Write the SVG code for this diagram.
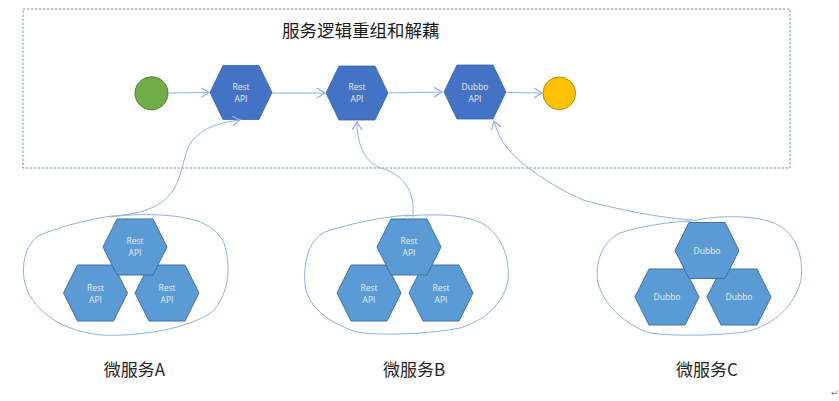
<svg xmlns="http://www.w3.org/2000/svg" width="839" height="401" viewBox="0 0 839 401">
<style>
.frame{fill:none;stroke:#6F94C6;stroke-width:1;stroke-dasharray:2.5 1.5}
.hexd{fill:#4472C4;stroke:#3A64B0;stroke-width:0.8}
.hexl{fill:#5B9BD5;stroke:#41719C;stroke-width:1}
.ht{font-family:"Open Sans","Liberation Sans",sans-serif;font-size:8.5px;fill:#E4ECF8;text-anchor:middle}
.con{fill:none;stroke:#8DB3E2;stroke-width:1.2}
.loop{fill:none;stroke:#8DB3E2;stroke-width:1}
.lbl{font-family:"Noto Sans CJK SC","Noto Sans",sans-serif;font-size:17px;fill:#262626;text-anchor:middle}
.title{font-family:"Noto Sans CJK SC","Noto Sans",sans-serif;font-size:17.5px;fill:#1a1a1a}
</style>
<defs>
<marker id="arr" markerUnits="userSpaceOnUse" markerWidth="12" markerHeight="12" refX="8" refY="5" orient="auto">
<path d="M0,0 L8,5 L0,10" fill="none" stroke="#8DB3E2" stroke-width="1.2"/>
</marker>
</defs>
<rect class="frame" x="23" y="9" width="767" height="159"/>
<text class="title" x="282" y="37">服务逻辑重组和解藕</text>

<g id="start"><circle cx="151.5" cy="93.3" r="16.5" fill="#70AD47" stroke="#507E32" stroke-width="1"/></g>
<g id="api1"><polygon class="hexd" points="210,92.5 223,65.5 259,65.5 272,92.5 259,119.5 223,119.5"/><text class="ht" x="241" y="90">Rest</text><text class="ht" x="241" y="102">API</text></g>
<g id="api2"><polygon class="hexd" points="326,93 339,66 375,66 388,93 375,120 339,120"/><text class="ht" x="357" y="90">Rest</text><text class="ht" x="357" y="102">API</text></g>
<g id="api3"><polygon class="hexd" points="444,92 457,65 493,65 506,92 493,119 457,119"/><text class="ht" x="475" y="89.5">Dubbo</text><text class="ht" x="475" y="101.5">API</text></g>
<g id="end"><circle cx="559.3" cy="93.3" r="16.3" fill="#FFC000" stroke="#BC8C00" stroke-width="1"/></g>

<g id="serviceA">
<path class="loop" d="M113,216 C95,218 60,226 38,236 C22,248 20,275 28,292 C38,312 60,330 100,335 C140,337 190,328 212,312 C228,296 232,268 224,243 C216,226 198,217 160,215 C140,214 125,215 110,217"/>
<polygon class="hexl" points="63.5,293 77.5,265 113.5,265 127.5,293 113.5,321 77.5,321"/><text class="ht" x="95.5" y="290.5">Rest</text><text class="ht" x="95.5" y="302.5">API</text>
<polygon class="hexl" points="135,293 149,265 185,265 199,293 185,321 149,321"/><text class="ht" x="167" y="290.5">Rest</text><text class="ht" x="167" y="302.5">API</text>
<polygon class="hexl" points="103,247 117,219 153,219 167,247 153,275 117,275"/><text class="ht" x="135" y="244">Rest</text><text class="ht" x="135" y="256">API</text>
<text class="lbl" x="134.5" y="376">微服务A</text>
</g>

<g id="serviceB">
<path class="loop" d="M410,215 C390,216 350,223 325,232 C308,240 303,265 305,285 C308,305 325,322 357,332 C380,336 430,334 460,328 C485,320 503,305 508,280 C510,255 500,235 485,225 C470,216 445,213 405,216"/>
<polygon class="hexl" points="337,293 351,265 387,265 401,293 387,321 351,321"/><text class="ht" x="369" y="290.5">Rest</text><text class="ht" x="369" y="302.5">API</text>
<polygon class="hexl" points="409,293 423,265 459,265 473,293 459,321 423,321"/><text class="ht" x="441" y="290.5">Rest</text><text class="ht" x="441" y="302.5">API</text>
<polygon class="hexl" points="377,247 391,219 427,219 441,247 427,275 391,275"/><text class="ht" x="409" y="244">Rest</text><text class="ht" x="409" y="256">API</text>
<text class="lbl" x="414" y="376">微服务B</text>
</g>

<g id="serviceC">
<path class="loop" d="M690,221 C670,222 640,226 620,233 C600,243 595,265 598,283 C604,305 625,325 650,333 C680,337 720,335 745,332 C775,325 795,305 801,280 C804,255 795,235 780,226 C765,217 740,216 720,217 C705,218 697,220 686,222"/>
<polygon class="hexl" points="635,297 649,269 685,269 699,297 685,325 649,325"/><text class="ht" x="667" y="300">Dubbo</text>
<polygon class="hexl" points="707,297 721,269 757,269 771,297 757,325 721,325"/><text class="ht" x="739" y="300">Dubbo</text>
<polygon class="hexl" points="675,250.5 689,222.5 725,222.5 739,250.5 725,278.5 689,278.5"/><text class="ht" x="707" y="253.5">Dubbo</text>
<text class="lbl" x="707" y="376">微服务C</text>
</g>

<g id="connectors">
<path class="con" marker-end="url(#arr)" d="M168,93 L209,92.5"/>
<path class="con" marker-end="url(#arr)" d="M272,93 L325,93"/>
<path class="con" marker-end="url(#arr)" d="M389,93 L442,92"/>
<path class="con" marker-end="url(#arr)" d="M507,92.5 L542,93"/>
<path class="loop" marker-end="url(#arr)" d="M113,216 C140,214 160,208 172,192 C184,175 182,155 192,141 C203,127 222,122 240,120"/>
<path class="loop" marker-end="url(#arr)" d="M413,218 L413,205 C411,185 398,172 380,168 C362,160 357,140 357,122"/>
<path class="loop" marker-end="url(#arr)" d="M693,220 C660,218 620,210 583,200 C550,185 520,165 505,145 C499,137 496,128 494,121"/>
</g>
<text x="831" y="396" font-family="DejaVu Sans,sans-serif" font-size="9" fill="#808080">↵</text>
</svg>
